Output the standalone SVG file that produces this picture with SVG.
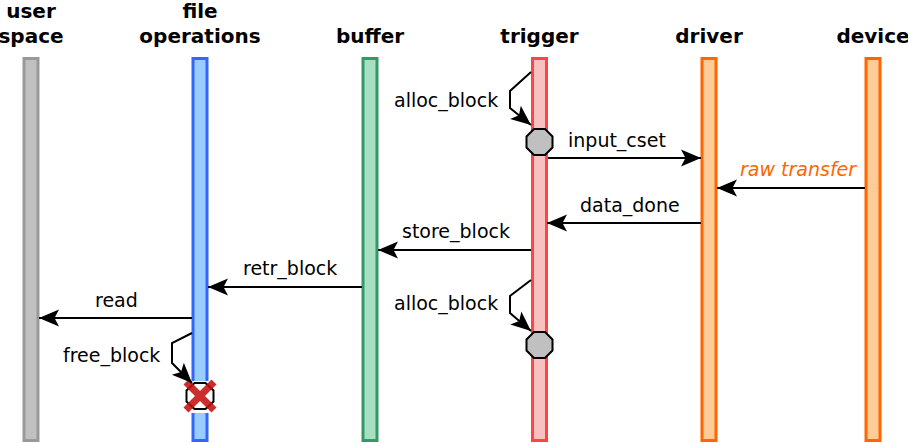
<svg xmlns="http://www.w3.org/2000/svg" width="908" height="443" viewBox="0 0 908 443">
<style>
.title{font-family:"DejaVu Sans","Liberation Sans",sans-serif;font-weight:bold;font-size:20px;fill:#000;text-anchor:middle}
.lbl{font-family:"DejaVu Sans","Liberation Sans",sans-serif;font-size:19px;fill:#000}
.raw{font-style:italic;fill:#FF6600}
.msg{stroke:#000;stroke-width:2;fill:none}
.bar{stroke-width:3}
.oct{fill:#C0C0C0;stroke:#000;stroke-width:2}
</style>
<defs>
<marker id="ah" markerUnits="userSpaceOnUse" markerWidth="24" markerHeight="20" refX="21" refY="10" orient="auto">
<path d="M21,10 L1,1.5 L5.5,10 L1,18.5 Z" fill="#000"/>
</marker>
</defs>
<rect width="908" height="443" fill="#fff"/>
<g id="user-space">
<text class="title" x="31" y="18">user</text>
<text class="title" x="31" y="43">space</text>
<rect class="bar" x="24" y="58.5" width="14" height="382" fill="#C0C0C0" stroke="#999999"/>
</g>
<g id="file-operations">
<text class="title" x="200" y="18">file</text>
<text class="title" x="200" y="43">operations</text>
<rect class="bar" x="193" y="58.5" width="14" height="382" fill="#99CCFF" stroke="#3366FF"/>
<rect x="186" y="381" width="28" height="32" fill="#fff"/>
<polygon points="194.5,383 205.5,383 213.5,390.5 213.5,401.5 205.5,409 194.5,409 186.5,401.5 186.5,390.5" fill="#fff" stroke="#000" stroke-width="2"/>
<g stroke="#C41010" stroke-width="7" opacity="0.88">
<line x1="186" y1="382" x2="214" y2="410"/>
<line x1="214" y1="382" x2="186" y2="410"/>
</g>
</g>
<g id="buffer">
<text class="title" x="370" y="43">buffer</text>
<rect class="bar" x="363" y="58.5" width="14" height="382" fill="#A8DFC2" stroke="#339966"/>
</g>
<g id="trigger">
<text class="title" x="539.5" y="43">trigger</text>
<rect class="bar" x="532.5" y="58.5" width="14" height="382" fill="#F8C0C0" stroke="#FF4444"/>
<polygon class="oct" points="534,129 545,129 552.5,136.5 552.5,147.5 545,155 534,155 526.5,147.5 526.5,136.5"/>
<polygon class="oct" points="534,332 545,332 552.5,339.5 552.5,350.5 545,358 534,358 526.5,350.5 526.5,339.5"/>
</g>
<g id="driver">
<text class="title" x="709" y="43">driver</text>
<rect class="bar" x="702" y="58.5" width="14" height="382" fill="#FFCC99" stroke="#FF6600"/>
</g>
<g id="device">
<text class="title" x="873" y="43">device</text>
<rect class="bar" x="866" y="58.5" width="14" height="382" fill="#FFCC99" stroke="#FF6600"/>
</g>
<g id="connectors">
<path class="msg" d="M531,72 L510,91 L510,108 L531,125" marker-end="url(#ah)"/>
<text class="lbl" x="394" y="107">alloc_block</text>
<line class="msg" x1="548" y1="158" x2="701" y2="158" marker-end="url(#ah)"/>
<text class="lbl" x="568" y="147">input_cset</text>
<line class="msg" x1="865" y1="188" x2="717" y2="188" marker-end="url(#ah)"/>
<text class="lbl raw" x="740" y="176">raw transfer</text>
<line class="msg" x1="701" y1="223" x2="547" y2="223" marker-end="url(#ah)"/>
<text class="lbl" x="580" y="212">data_done</text>
<line class="msg" x1="531" y1="250" x2="378" y2="250" marker-end="url(#ah)"/>
<text class="lbl" x="402" y="238">store_block</text>
<line class="msg" x1="362" y1="287" x2="208" y2="287" marker-end="url(#ah)"/>
<text class="lbl" x="243" y="275">retr_block</text>
<path class="msg" d="M531,280 L510,296 L510,313 L531,331" marker-end="url(#ah)"/>
<text class="lbl" x="394" y="310">alloc_block</text>
<line class="msg" x1="192" y1="318" x2="39" y2="318" marker-end="url(#ah)"/>
<text class="lbl" x="95" y="307">read</text>
<path class="msg" d="M192,333 L172,343 L172,363 L192,383" marker-end="url(#ah)"/>
<text class="lbl" x="63" y="362">free_block</text>
</g>
</svg>
